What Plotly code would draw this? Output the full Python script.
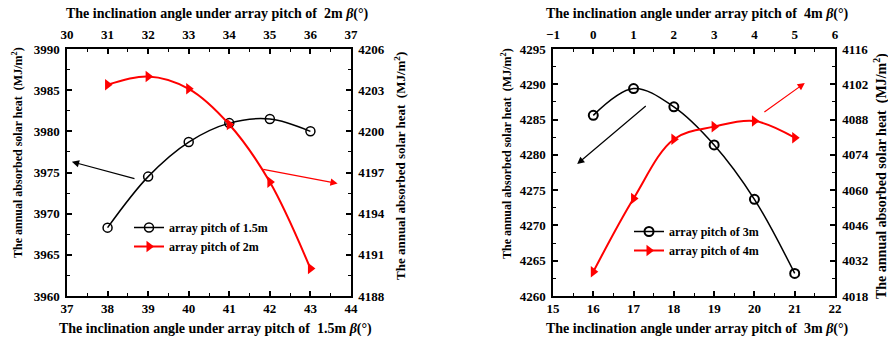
import plotly.graph_objects as go

# ---------------- data ----------------
# Left panel: array pitch 1.5 m (bottom / left axes) and 2 m (top / right axes)
pitch15_angle = [38, 39, 40, 41, 42, 43]
pitch15_heat = [3968.3, 3974.5, 3978.7, 3981.0, 3981.5, 3980.0]
pitch2_angle = [31, 32, 33, 34, 35, 36]
pitch2_heat = [4203.4, 4204.0, 4203.1, 4200.5, 4196.3, 4190.0]

# Right panel: array pitch 3 m (bottom / left axes) and 4 m (top / right axes)
pitch3_angle = [16, 17, 18, 19, 20, 21]
pitch3_heat = [4285.6, 4289.4, 4286.8, 4281.4, 4273.7, 4263.2]
pitch4_angle = [0, 1, 2, 3, 4, 5]
pitch4_heat = [4027.6, 4056.7, 4080.2, 4085.2, 4087.4, 4080.8]

series_names = ["array pitch of 1.5m", "array pitch of 2m",
                "array pitch of 3m", "array pitch of 4m"]

W, H = 888, 344
FONT = "Liberation Serif"


def px(x):
    return x / W


def py(y):
    return (H - y) / H


fig = go.Figure()

fig.add_trace(go.Scatter(
    x=pitch15_angle, y=pitch15_heat, name=series_names[0],
    mode="lines+markers", line=dict(color="black", width=1.5, shape="spline"),
    marker=dict(symbol="circle-open", size=9, color="black", line=dict(width=1.5)),
    xaxis="x", yaxis="y", legend="legend"))
fig.add_trace(go.Scatter(
    x=pitch2_angle, y=pitch2_heat, name=series_names[1],
    mode="lines+markers", line=dict(color="red", width=2, shape="spline"),
    marker=dict(symbol="triangle-right", size=10, color="red"),
    xaxis="x2", yaxis="y2", legend="legend"))
fig.add_trace(go.Scatter(
    x=pitch3_angle, y=pitch3_heat, name=series_names[2],
    mode="lines+markers", line=dict(color="black", width=1.5, shape="spline"),
    marker=dict(symbol="circle-open", size=9, color="black", line=dict(width=2)),
    xaxis="x3", yaxis="y3", legend="legend2"))
fig.add_trace(go.Scatter(
    x=pitch4_angle, y=pitch4_heat, name=series_names[3],
    mode="lines+markers", line=dict(color="red", width=2, shape="spline"),
    marker=dict(symbol="triangle-right", size=10, color="red"),
    xaxis="x4", yaxis="y4", legend="legend2"))

tickfont = dict(family=FONT, size=13, color="black", weight="bold")


def ax(rng, dtick, standoff=3, **kw):
    d = dict(range=rng, dtick=dtick, showline=True, linecolor="black", linewidth=1.5,
             ticks="inside", ticklen=5, tickwidth=1.5, tickcolor="black",
             minor=dict(ticks="inside", ticklen=3, tickwidth=1.2, tickcolor="black",
                        dtick=dtick / 2),
             showgrid=False, zeroline=False, tickfont=tickfont,
             ticklabelstandoff=standoff, fixedrange=True, automargin=False)
    d.update(kw)
    return d


LD = [px(67), px(351)]
RD = [px(553), px(835)]
YD = [py(296), py(49)]

fig.update_layout(
    width=W, height=H, margin=dict(l=0, r=0, t=0, b=0),
    paper_bgcolor="white", plot_bgcolor="white",
    xaxis=ax([37, 44], 1, standoff=0, domain=LD, anchor="y"),
    yaxis=ax([3960, 3990], 5, domain=YD, anchor="x"),
    xaxis2=ax([30, 37], 1, overlaying="x", side="top", anchor="y2"),
    yaxis2=ax([4188, 4206], 3, overlaying="y", side="right", anchor="x2"),
    xaxis3=ax([15, 22], 1, standoff=0, domain=RD, anchor="y3"),
    yaxis3=ax([4260, 4295], 5, domain=YD, anchor="x3"),
    xaxis4=ax([-1, 6], 1, overlaying="x3", side="top", anchor="y4"),
    yaxis4=ax([4018, 4116], 14, overlaying="y3", side="right", anchor="x4"),
    legend=dict(x=px(129), y=py(213), xanchor="left", yanchor="top",
                bgcolor="rgba(0,0,0,0)",
                font=dict(family=FONT, size=12, color="black", weight="bold")),
    legend2=dict(x=px(629), y=py(217), xanchor="left", yanchor="top",
                 bgcolor="rgba(0,0,0,0)", tracegroupgap=0,
                 font=dict(family=FONT, size=12, color="black", weight="bold")),
    showlegend=True,
)

xt = "The inclination angle under array pitch of  {}m <i>β</i>(°)"
yt = "The annual absorbed solar heat  (MJ/m<sup>2</sup>)"


def tf(size):
    return dict(family=FONT, size=size, color="black", weight="bold")


anns = [
    dict(text=xt.format("2"), x=px(217), y=py(14), font=tf(14)),
    dict(text=xt.format("1.5"), x=px(215), y=py(329), font=tf(14)),
    dict(text=xt.format("4"), x=px(697), y=py(14), font=tf(14)),
    dict(text=xt.format("3"), x=px(697), y=py(329), font=tf(14)),
    dict(text=yt, x=px(17), y=py(153), textangle=-90, font=tf(12)),
    dict(text=yt, x=px(400), y=py(166), textangle=-90, font=tf(13)),
    dict(text=yt, x=px(506), y=py(153), textangle=-90, font=tf(12)),
    dict(text=yt, x=px(880), y=py(176), textangle=-90, font=tf(14)),
]
for a in anns:
    fig.add_annotation(xref="paper", yref="paper", showarrow=False,
                       xanchor="center", yanchor="middle", **a)

# arrows pointing to the axis each curve belongs to
arrows = [
    dict(xref="x", yref="y", x=37.12, y=3976.3, ax=38.7, ay=3974.2, arrowcolor="black"),
    dict(xref="x2", yref="y2", x=36.67, y=4196.2, ax=34.8, ay=4197.25, arrowcolor="red"),
    dict(xref="x3", yref="y3", x=15.6, y=4278.7, ax=17.34, ay=4287.1, arrowcolor="black"),
    dict(xref="x4", yref="y4", x=5.25, y=4102.5, ax=4.21, ay=4090.6, arrowcolor="red"),
]
for a in arrows:
    fig.add_annotation(axref=a["xref"], ayref=a["yref"], showarrow=True, text="",
                       arrowhead=2, arrowsize=1.2, arrowwidth=1.2, **a)

fig.write_html("out.html", config={"displayModeBar": False},
               post_script="document.body.style.margin='0';"
                           "document.body.style.overflow='hidden';")
